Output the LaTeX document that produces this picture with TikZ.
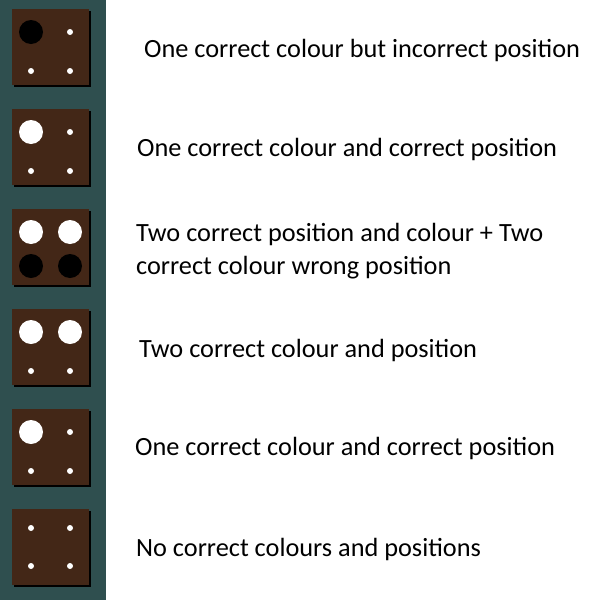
\documentclass[tikz,border=0pt]{standalone}
\usepackage{fontspec}
\setmainfont{Carlito}
\usepackage{xcolor}
\usepackage{tikz}
\usetikzlibrary{positioning,shadows}
\definecolor{boardteal}{RGB}{47, 79, 79}
\definecolor{boardbrown}{RGB}{67, 39, 23}

\begin{document}
\begin{tikzpicture}[x=1pt, y=-1pt,
    board/.style={fill=boardbrown, minimum width=77pt, minimum height=76pt, inner sep=0pt,
        drop shadow={shadow xshift=2pt, shadow yshift=-2pt, opacity=1, fill=black}},
    pegbig/.style={circle, fill=#1, minimum size=24pt, inner sep=0pt},
    pegsmall/.style={circle, fill=white, minimum size=6pt, inner sep=0pt},
    clue/.style={anchor=base west, inner sep=0pt, font=\fontsize{26.3}{31}\selectfont}]
    \useasboundingbox[fill=white] (0,0) rectangle (596,600);
    \fill[boardteal] (0,0) rectangle (106,600);

    % Boards
    \node[board] (board1) at (50.5,47) {};
    \node[board] (board2) at (50.5,147) {};
    \node[board] (board3) at (50.5,247) {};
    \node[board] (board4) at (50.5,347) {};
    \node[board] (board5) at (50.5,447) {};
    \node[board] (board6) at (50.5,547) {};

    % Pegs
    \node[pegbig=black] (b1p1) at (31,32) {};
    \node[pegsmall] (b1p2) at (70,32) {};
    \node[pegsmall] (b1p3) at (31,71) {};
    \node[pegsmall] (b1p4) at (70,71) {};

    \node[pegbig=white] (b2p1) at (31,132) {};
    \node[pegsmall] (b2p2) at (70,132) {};
    \node[pegsmall] (b2p3) at (31,171) {};
    \node[pegsmall] (b2p4) at (70,171) {};

    \node[pegbig=white] (b3p1) at (31,232) {};
    \node[pegbig=white] (b3p2) at (70,232) {};
    \node[pegbig=black] (b3p3) at (31,266) {};
    \node[pegbig=black] (b3p4) at (70,266) {};

    \node[pegbig=white] (b4p1) at (31,332) {};
    \node[pegbig=white] (b4p2) at (70,332) {};
    \node[pegsmall] (b4p3) at (31,371) {};
    \node[pegsmall] (b4p4) at (70,371) {};

    \node[pegbig=white] (b5p1) at (31,432) {};
    \node[pegsmall] (b5p2) at (70,432) {};
    \node[pegsmall] (b5p3) at (31,471) {};
    \node[pegsmall] (b5p4) at (70,471) {};

    \node[pegsmall] (b6p1) at (31,528) {};
    \node[pegsmall] (b6p2) at (70,528) {};
    \node[pegsmall] (b6p3) at (31,566) {};
    \node[pegsmall] (b6p4) at (70,566) {};

    % Clues
    \node[clue] (clue1) at (144,57) {One correct colour but incorrect position};
    \node[clue] (clue2) at (137,156) {One correct colour and correct position};
    \node[clue] (clue3a) at (136,241) {Two correct position and colour + Two};
    \node[clue] (clue3b) at (136,274) {correct colour wrong position};
    \node[clue] (clue4) at (139,357) {Two correct colour and position};
    \node[clue] (clue5) at (135,455) {One correct colour and correct position};
    \node[clue] (clue6) at (136,556) {No correct colours and positions};
\end{tikzpicture}
\end{document}
